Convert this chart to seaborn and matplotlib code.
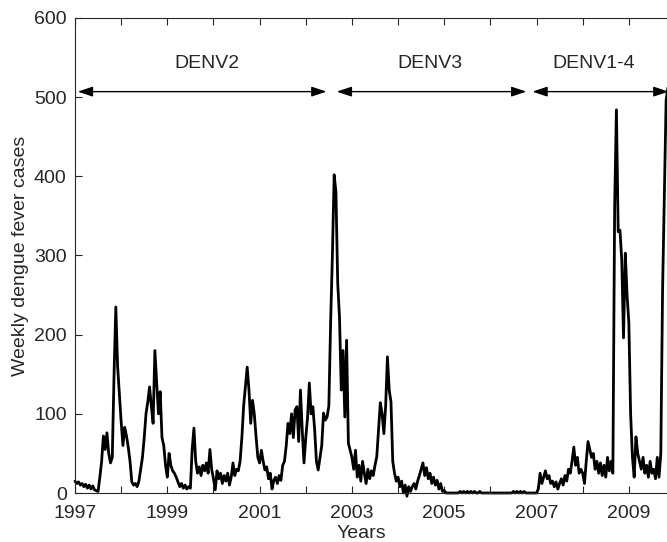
import numpy as np
import pandas as pd
import matplotlib
matplotlib.use("Agg")
import matplotlib.pyplot as plt
import seaborn as sns

# Biweekly dengue fever case counts (26 readings per year)
cases_1997 = [15, 12, 14, 10, 12, 8, 11, 6, 10, 5, 9, 4, 3, 2, 20, 40, 72, 55, 76, 50, 38, 45, 150, 235, 160, 124]
cases_1998 = [90, 60, 83, 72, 58, 40, 14, 10, 12, 8, 15, 30, 45, 70, 100, 115, 134, 110, 88, 180, 140, 100, 128, 70, 60, 35]
cases_1999 = [20, 50, 35, 28, 25, 20, 14, 8, 12, 6, 10, 5, 8, 6, 55, 82, 40, 25, 33, 22, 35, 28, 38, 25, 55, 30]
cases_2000 = [18, 4, 28, 18, 25, 12, 22, 15, 25, 10, 20, 38, 22, 30, 28, 40, 70, 110, 135, 159, 130, 88, 117, 100, 71, 45]
cases_2001 = [38, 54, 40, 29, 33, 18, 25, 5, 16, 20, 12, 22, 16, 35, 40, 60, 88, 75, 100, 70, 105, 109, 65, 130, 80, 38]
cases_2002 = [70, 95, 139, 100, 109, 80, 40, 29, 45, 60, 101, 92, 96, 110, 215, 300, 402, 380, 265, 222, 130, 180, 96, 193, 63, 54]
cases_2003 = [45, 30, 54, 20, 35, 15, 40, 25, 12, 30, 18, 28, 22, 35, 46, 80, 114, 100, 75, 110, 172, 130, 115, 40, 25, 15]
cases_2004 = [20, 8, 15, 0, 10, -4, 8, 2, 8, 12, 5, 15, 22, 30, 38, 22, 32, 18, 25, 12, 20, 10, 16, 5, 12, 2]
cases_2005 = [3, 0, 0, 0, 0, 0, 0, 0, 0, 2, 0, 2, 0, 2, 0, 2, 0, 2, 0, 0, 2, 0, 0, 0, 0, 0]
cases_2006 = [0, 0, 0, 0, 0, 0, 0, 0, 0, 0, 0, 0, 0, 2, 0, 2, 0, 2, 0, 2, 0, 0, 0, 0, 0, 0]
cases_2007 = [0, 5, 25, 12, 20, 28, 18, 22, 12, 15, 8, 14, 5, 12, 18, 10, 22, 15, 30, 25, 40, 58, 35, 45, 25, 30]
cases_2008 = [25, 12, 40, 65, 55, 45, 50, 30, 40, 25, 38, 22, 35, 20, 45, 28, 40, 25, 361, 484, 330, 332, 294, 196, 303, 250]
cases_2009 = [215, 100, 46, 20, 71, 50, 40, 30, 45, 25, 35, 20, 40, 25, 30, 18, 45, 20, 50, 256, 379, 496, 512]

years = list(range(1997, 2010))
series = [cases_1997, cases_1998, cases_1999, cases_2000, cases_2001, cases_2002,
          cases_2003, cases_2004, cases_2005, cases_2006, cases_2007, cases_2008, cases_2009]

serotype_labels = ["DENV2", "DENV3", "DENV1-4"]
serotype_spans = [(1997.06, 2002.45), (2002.67, 2006.78), (2006.91, 2009.86)]
label_centers = [1999.86, 2004.68, 2008.23]

rows = []
for yr, vals in zip(years, series):
    for k, v in enumerate(vals):
        rows.append({"t": yr + k / 26.0, "cases": v})
df = pd.DataFrame(rows)

sns.set_style("ticks")
plt.rcParams["font.family"] = ["Liberation Sans", "DejaVu Sans"]
ink = "#262626"
fs = 14

fig = plt.figure(figsize=(6.67, 5.42), dpi=100)
ax = fig.add_axes([75 / 667, 49 / 542, 600 / 667, 475 / 542])

sns.lineplot(data=df, x="t", y="cases", ax=ax, color="black", linewidth=2.0, clip_on=False)

ax.set_xlim(1997, 2010)
ax.set_ylim(0, 600)
ax.set_xticks(range(1997, 2011))
ax.set_xticklabels([str(y) if y % 2 == 1 else "" for y in range(1997, 2011)])
ax.set_yticks(range(0, 601, 100))
ax.tick_params(axis="both", direction="in", length=5, width=0.8, colors=ink,
               labelsize=fs, top=True, right=True)
ax.tick_params(axis="x", pad=9)
ax.tick_params(axis="y", pad=6)
for s in ax.spines.values():
    s.set_color(ink)
    s.set_linewidth(0.8)

ax.set_xlabel("Years", fontsize=fs, color=ink)
ax.xaxis.label.set_va("center")
ax.xaxis.set_label_coords(0.477, -40 / 475)
ax.set_ylabel("Weekly dengue fever cases", fontsize=fs, color=ink)
ax.yaxis.label.set_va("center")
ax.yaxis.set_label_coords(-55 / 600, 0.5)

for lab, (a, b), c in zip(serotype_labels, serotype_spans, label_centers):
    ax.annotate("", xy=(b, 507), xytext=(a, 507), xycoords="data",
                arrowprops=dict(arrowstyle="<|-|>,head_length=0.9,head_width=0.3",
                                color="black", lw=1.0, shrinkA=0, shrinkB=0),
                annotation_clip=False)
    ax.text(c, 543, lab, ha="center", va="center", fontsize=fs, color=ink)

fig.savefig("out.png", dpi=100)
